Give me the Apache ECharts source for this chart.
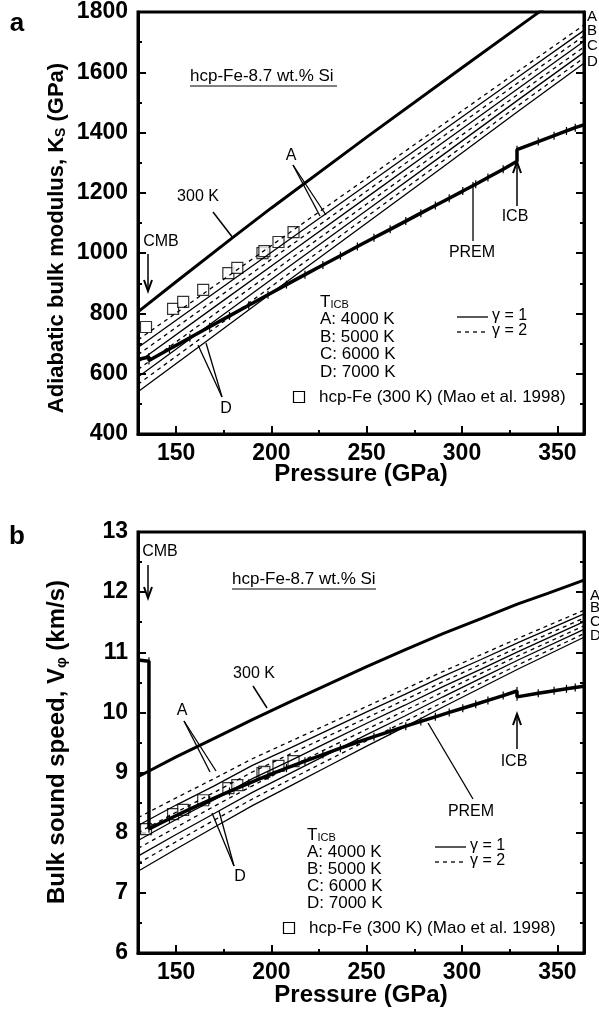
<!DOCTYPE html>
<html>
<head>
<meta charset="utf-8">
<script src="https://cdn.jsdelivr.net/npm/echarts@6.0.0/dist/echarts.min.js"></script>
<style>
  html, body { margin: 0; padding: 0; background: #fff; }
  #main { width: 599px; height: 1013px; }
</style>
</head>
<body>
<div id="main"></div>
<script>
// pressure ticks
var majorP = [150, 200, 250, 300, 350];
var minorP = [175, 225, 275, 325];

// (a) adiabatic bulk modulus, GPa
var kP   = [130, 170, 210, 250, 290, 330, 364];
var kA2  = [712, 891, 1070, 1248, 1427, 1606, 1757];
var kA1  = [687, 868, 1048, 1227, 1407, 1587, 1739];
var kB2  = [663, 844, 1025, 1206, 1387, 1568, 1721];
var kB1  = [638, 821, 1003, 1185, 1367, 1549, 1703];
var kC2  = [614, 797, 981, 1163, 1346, 1530, 1684];
var kC1  = [589, 774, 959, 1142, 1326, 1511, 1666];
var kD2  = [565, 750, 936, 1121, 1306, 1492, 1648];
var kD1  = [540, 727, 914, 1100, 1286, 1473, 1630];
var k300P = [130, 150, 180, 200, 250, 300, 340, 364];
var k300  = [805, 905, 1053, 1150, 1385, 1615, 1798, 1905];

// (b) bulk sound speed, km/s
var vP   = [130, 150, 170, 190, 210, 230, 250, 270, 290, 310, 330, 364];
var vA2  = [8.25, 8.58, 8.90, 9.23, 9.52, 9.81, 10.10, 10.39, 10.68, 10.96, 11.24, 11.70];
var vA1  = [8.12, 8.46, 8.78, 9.12, 9.41, 9.71, 10.01, 10.30, 10.60, 10.88, 11.17, 11.64];
var vB2  = [8.00, 8.34, 8.67, 9.01, 9.31, 9.61, 9.91, 10.21, 10.51, 10.80, 11.09, 11.57];
var vB1  = [7.87, 8.22, 8.55, 8.90, 9.20, 9.51, 9.82, 10.12, 10.43, 10.72, 11.02, 11.51];
var vC2  = [7.74, 8.09, 8.44, 8.78, 9.10, 9.41, 9.72, 10.03, 10.34, 10.65, 10.95, 11.44];
var vC1  = [7.61, 7.97, 8.32, 8.67, 8.99, 9.31, 9.63, 9.94, 10.26, 10.57, 10.88, 11.38];
var vD2  = [7.49, 7.85, 8.21, 8.56, 8.89, 9.21, 9.53, 9.85, 10.17, 10.49, 10.80, 11.31];
var vD1  = [7.36, 7.73, 8.09, 8.45, 8.78, 9.11, 9.44, 9.76, 10.09, 10.41, 10.73, 11.25];
var v300P = [130, 150, 170, 190, 210, 230, 250, 270, 290, 310, 329, 345, 364];
var v300  = [8.93, 9.26, 9.57, 9.88, 10.18, 10.47, 10.76, 11.04, 11.31, 11.56, 11.80, 11.98, 12.20];

// PREM (mantle end, outer core, inner core)
var premP = [130, 135.75, 135.75, 146.5, 157.2, 167.6, 178.0, 188.1, 198.2, 207.9, 217.6, 227.0, 236.2,
             245.1, 253.8, 262.3, 270.5, 278.4, 286.0, 293.3, 300.4, 307.2, 313.6, 321.6, 328.85,
             328.85, 340.0, 348.3, 354.8, 359.4, 363.85];
var premK = [647, 655.6, 644.1, 681.8, 719.0, 755.7, 791.8, 827.2, 861.8, 895.6, 928.6, 960.5, 991.6,
             1021.8, 1050.9, 1079.0, 1106.3, 1132.6, 1157.9, 1182.3, 1205.9, 1228.7, 1250.8, 1278.4, 1304.7,
             1343.4, 1370.1, 1389.8, 1405.4, 1416.3, 1425.3];
var premV = [10.87, 10.85, 8.065, 8.232, 8.391, 8.543, 8.686, 8.822, 8.952, 9.074, 9.190, 9.300, 9.405,
             9.504, 9.597, 9.686, 9.771, 9.851, 9.927, 10.000, 10.069, 10.136, 10.200, 10.280, 10.356,
             10.259, 10.318, 10.360, 10.393, 10.416, 10.435];

// hcp-Fe 300 K (Mao et al. 1998)
var maoP = [134.2, 148.4, 153.7, 164.2, 177.4, 182.1, 195.3, 196.3, 203.7, 211.6];
var maoK = [755, 815, 838, 878, 934, 951, 1000, 1007, 1037, 1070];
var maoV = [8.06, 8.31, 8.38, 8.54, 8.74, 8.79, 8.99, 9.01, 9.11, 9.19];

var FONT = 'Liberation Sans, Arial, Helvetica, sans-serif';

function pairs(xs, ys) {
  return xs.map(function (x, i) { return [x, ys[i]]; });
}

function line(idx, xs, ys, width, dashed) {
  return {
    type: 'line', xAxisIndex: idx * 2, yAxisIndex: idx * 2,
    data: pairs(xs, ys), showSymbol: false, silent: true,
    lineStyle: { color: '#000', width: width, type: dashed ? [4, 4] : 'solid' }
  };
}

function panelSeries(idx, P, bands, p300, y300, yPrem, yMao) {
  var s = [];
  bands.forEach(function (b, i) { s.push(line(idx, P, b, 1.3, i % 2 === 0)); });
  s.push(line(idx, p300, y300, 3, false));
  var prem = line(idx, premP, yPrem, 3.5, false);
  prem.showSymbol = true;
  prem.symbol = 'rect';
  prem.symbolSize = [1.2, 8];
  prem.itemStyle = { color: '#000' };
  s.push(prem);
  s.push({
    type: 'scatter', xAxisIndex: idx * 2, yAxisIndex: idx * 2, silent: true,
    data: pairs(maoP, yMao), symbol: 'rect', symbolSize: 11,
    itemStyle: { color: '#fff', borderColor: '#000', borderWidth: 1.2 }
  });
  return s;
}

function xAxes(g) {
  return [{
    gridIndex: g, type: 'value', min: 130, max: 364,
    axisLine: { lineStyle: { color: '#000', width: 3 } },
    axisTick: { inside: true, length: 8, customValues: majorP, lineStyle: { color: '#000', width: 2 } },
    axisLabel: { customValues: majorP, color: '#000', fontFamily: FONT, fontWeight: 'bold', fontSize: 23, margin: 8 },
    splitLine: { show: false }
  }, {
    gridIndex: g, type: 'value', min: 130, max: 364, position: 'bottom',
    axisLine: { show: false },
    axisTick: { inside: true, length: 4, customValues: minorP, lineStyle: { color: '#000', width: 2 } },
    axisLabel: { show: false }, splitLine: { show: false }
  }];
}

function yAxes(g, min, max, step) {
  var base = {
    gridIndex: g, type: 'value', min: min, max: max, interval: step,
    axisLine: { show: true, lineStyle: { color: '#000', width: 3 } },
    axisTick: { inside: true, length: 8, lineStyle: { color: '#000', width: 2 } },
    minorTick: { show: true, splitNumber: 2, length: 4, lineStyle: { color: '#000', width: 2 } },
    splitLine: { show: false }
  };
  var left = Object.assign({}, base, {
    position: 'left',
    axisLabel: { color: '#000', fontFamily: FONT, fontWeight: 'bold', fontSize: 23, margin: 10,
                 formatter: function (v) { return String(v); } }
  });
  var right = Object.assign({}, base, { position: 'right', axisLabel: { show: false } });
  return [left, right];
}

// ---- annotation helpers ----
function txt(x, y, s, size, extra) {
  var st = { text: s, fontFamily: FONT, fontSize: size, fill: '#000', align: 'center', verticalAlign: 'middle' };
  Object.assign(st, extra || {});
  return { type: 'text', x: x, y: y, silent: true, style: st };
}
function seg(x1, y1, x2, y2, w, dash) {
  return { type: 'line', silent: true, shape: { x1: x1, y1: y1, x2: x2, y2: y2 },
           style: { stroke: '#000', lineWidth: w || 1.5, lineDash: dash || null } };
}
function arrow(x, y1, y2) {
  var d = y2 > y1 ? -1 : 1;
  return [seg(x, y1, x, y2, 1.5),
    { type: 'polyline', silent: true, shape: { points: [[x - 4, y2 + d * 11], [x, y2], [x + 4, y2 + d * 11]] },
      style: { stroke: '#000', lineWidth: 2, fill: null } }];
}
function sq(x, y) {
  return { type: 'rect', silent: true, shape: { x: x - 5.5, y: y - 5.5, width: 11, height: 11 },
           style: { fill: '#fff', stroke: '#000', lineWidth: 1.2 } };
}
function legendBlock(x, y0, dy, lx, ly, sqx, sqy) {
  var g = [];
  g.push(txt(x, y0, '{t|T}{s|ICB}', 17, { align: 'left',
    rich: { t: { fontSize: 17, fontFamily: FONT }, s: { fontSize: 11, fontFamily: FONT, verticalAlign: 'bottom' } } }));
  ['A: 4000 K', 'B: 5000 K', 'C: 6000 K', 'D: 7000 K'].forEach(function (s, i) {
    g.push(txt(x, y0 + dy * (i + 1), s, 17, { align: 'left' }));
  });
  g.push(seg(lx, ly, lx + 31, ly, 1.3));
  g.push(seg(lx, ly + 15, lx + 31, ly + 15, 1.3, [4, 4]));
  g.push(txt(lx + 35, ly - 1, 'γ = 1', 16, { align: 'left' }));
  g.push(txt(lx + 35, ly + 14, 'γ = 2', 16, { align: 'left' }));
  g.push(sq(sqx, sqy));
  g.push(txt(sqx + 20, sqy, 'hcp-Fe (300 K) (Mao et al. 1998)', 17, { align: 'left' }));
  return g;
}
function abcd(x, ys) {
  return ['A', 'B', 'C', 'D'].map(function (s, i) { return txt(x, ys[i], s, 15, { align: 'left' }); });
}

var graphics = [];
// panel a
graphics.push(txt(17, 24, 'a', 26, { fontWeight: 'bold' }));
graphics.push(txt(57, 238, '{a|Adiabatic bulk modulus, K}{s|S}{a| (GPa)}', 22, {
  rich: { a: { fontSize: 22, fontWeight: 'bold', fontFamily: FONT },
          s: { fontSize: 14, fontWeight: 'bold', fontFamily: FONT, verticalAlign: 'bottom' } } }));
graphics[graphics.length - 1].rotation = Math.PI / 2;
graphics.push(txt(361, 474, 'Pressure (GPa)', 24, { fontWeight: 'bold' }));
graphics.push(txt(190, 76, 'hcp-Fe-8.7 wt.% Si', 17, { align: 'left' }));
graphics.push(seg(190, 86, 337, 86, 1.2));
graphics.push(txt(198, 197, '300 K', 16));
graphics.push(seg(213, 212, 233, 238, 1.5));
graphics.push(txt(291, 156, 'A', 16));
graphics.push(seg(293, 165, 320, 216, 1.3));
graphics.push(seg(293, 165, 326, 215, 1.3));
graphics.push(txt(226, 409, 'D', 16));
graphics.push(seg(222, 397, 198, 345, 1.3));
graphics.push(seg(222, 397, 206, 343, 1.3));
graphics.push(txt(161, 242, 'CMB', 16));
graphics = graphics.concat(arrow(148, 254, 291));
graphics.push(txt(515, 217, 'ICB', 16));
graphics = graphics.concat(arrow(517, 206, 162));
graphics.push(txt(472, 253, 'PREM', 16));
graphics.push(seg(473, 241, 473, 182, 1.3));
graphics = graphics.concat(legendBlock(320, 302, 17.5, 457, 317, 299, 397));
graphics = graphics.concat(abcd(587, [17, 31, 46, 62]));

// panel b
graphics.push(txt(17, 537, 'b', 26, { fontWeight: 'bold' }));
graphics.push(txt(57, 742, '{a|Bulk sound speed, V}{s|φ}{a| (km/s)}', 24, {
  rich: { a: { fontSize: 24, fontWeight: 'bold', fontFamily: FONT },
          s: { fontSize: 15, fontWeight: 'bold', fontFamily: FONT, verticalAlign: 'bottom' } } }));
graphics[graphics.length - 1].rotation = Math.PI / 2;
graphics.push(txt(361, 995, 'Pressure (GPa)', 24, { fontWeight: 'bold' }));
graphics.push(txt(232, 579, 'hcp-Fe-8.7 wt.% Si', 17, { align: 'left' }));
graphics.push(seg(232, 589, 376, 589, 1.2));
graphics.push(txt(254, 674, '300 K', 16));
graphics.push(seg(253, 686, 267, 708, 1.5));
graphics.push(txt(182, 711, 'A', 16));
graphics.push(seg(184, 721, 210, 772, 1.3));
graphics.push(seg(184, 721, 216, 771, 1.3));
graphics.push(txt(240, 877, 'D', 16));
graphics.push(seg(234, 866, 212, 813, 1.3));
graphics.push(seg(234, 866, 219, 811, 1.3));
graphics.push(txt(160, 552, 'CMB', 16));
graphics = graphics.concat(arrow(148, 565, 598));
graphics.push(txt(514, 762, 'ICB', 16));
graphics = graphics.concat(arrow(517, 749, 714));
graphics.push(txt(471, 812, 'PREM', 16));
graphics.push(seg(473, 799, 428, 723, 1.3));
graphics = graphics.concat(legendBlock(307, 835, 17, 435, 847, 289, 928));
graphics = graphics.concat(abcd(590, [596, 608, 622, 636]));

var option = {
  animation: false,
  backgroundColor: '#fff',
  grid: [
    { left: 138, top: 12, width: 446, height: 422, show: true, borderColor: '#000', borderWidth: 3 },
    { left: 138, top: 532, width: 446, height: 421, show: true, borderColor: '#000', borderWidth: 3 }
  ],
  xAxis: xAxes(0).concat(xAxes(1)),
  yAxis: yAxes(0, 400, 1800, 200).concat(yAxes(1, 6, 13, 1)),
  series: panelSeries(0, kP, [kA2, kA1, kB2, kB1, kC2, kC1, kD2, kD1], k300P, k300, premK, maoK)
    .concat(panelSeries(1, vP, [vA2, vA1, vB2, vB1, vC2, vC1, vD2, vD1], v300P, v300, premV, maoV)),
  graphic: graphics
};

var chart = echarts.init(document.getElementById('main'), null, { renderer: 'canvas' });
chart.setOption(option);
</script>
</body>
</html>
